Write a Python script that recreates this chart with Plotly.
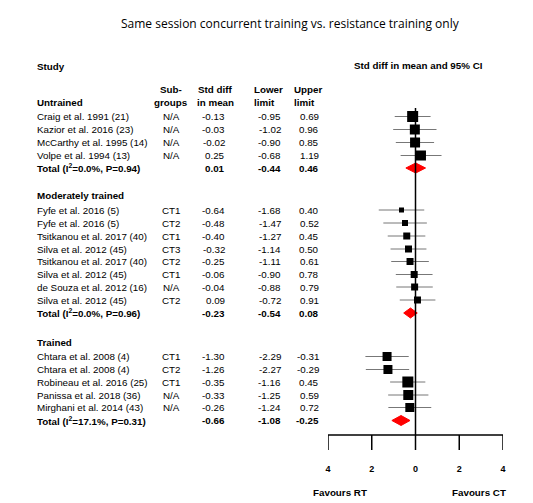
import plotly.graph_objects as go

# rows: (label, subgroup, est, lower, upper, marker size)
untrained = ["Craig et al. 1991 (21)", "Kazior et al. 2016 (23)", "McCarthy et al. 1995 (14)", "Volpe et al. 1994 (13)"]
untrained_sub = ["N/A", "N/A", "N/A", "N/A"]
untrained_est = [-0.13, -0.03, -0.02, 0.25]
untrained_lo = [-0.95, -1.02, -0.90, -0.68]
untrained_hi = [0.69, 0.96, 0.85, 1.19]
untrained_w = [11, 10, 10, 10]
untrained_total = [0.01, -0.44, 0.46]

moderate = ["Fyfe et al. 2016 (5)", "Fyfe et al. 2016 (5)", "Tsitkanou et al. 2017 (40)", "Silva et al. 2012 (45)",
            "Tsitkanou et al. 2017 (40)", "Silva et al. 2012 (45)", "de Souza et al. 2012 (16)", "Silva et al. 2012 (45)"]
moderate_sub = ["CT1", "CT2", "CT1", "CT3", "CT2", "CT1", "N/A", "CT2"]
moderate_est = [-0.64, -0.48, -0.40, -0.32, -0.25, -0.06, -0.04, 0.09]
moderate_lo = [-1.68, -1.47, -1.27, -1.14, -1.11, -0.90, -0.88, -0.72]
moderate_hi = [0.40, 0.52, 0.45, 0.50, 0.61, 0.78, 0.79, 0.91]
moderate_w = [5, 6, 7, 7, 7, 7, 7, 7]
moderate_total = [-0.23, -0.54, 0.08]

trained = ["Chtara et al. 2008 (4)", "Chtara et al. 2008 (4)", "Robineau et al. 2016 (25)", "Panissa et al. 2018 (36)",
           "Mirghani et al. 2014 (43)"]
trained_sub = ["CT1", "CT2", "CT1", "N/A", "N/A"]
trained_est = [-1.30, -1.26, -0.35, -0.33, -0.26]
trained_lo = [-2.29, -2.27, -1.16, -1.25, -1.24]
trained_hi = [-0.31, -0.29, 0.45, 0.59, 0.72]
trained_w = [9, 9, 11, 10, 9]
trained_total = [-0.66, -1.08, -0.25]

totals_label = ["Total (I<sup>2</sup>=0.0%, P=0.94)", "Total (I<sup>2</sup>=0.0%, P=0.96)", "Total (I<sup>2</sup>=17.1%, P=0.31)"]
group_names = ["Untrained", "Moderately trained", "Trained"]
axis_ticks = [-4, -2, 0, 2, 4]

W, H = 533, 503
FONT = "Liberation Sans"
FS = 9.8

groups = [
    (untrained, untrained_sub, untrained_est, untrained_lo, untrained_hi, untrained_w, untrained_total, 94, [108.5, 121.5, 134.5, 147.5], 160),
    (moderate, moderate_sub, moderate_est, moderate_lo, moderate_hi, moderate_w, moderate_total, 187, [202, 215, 228, 241, 253.5, 266.5, 279, 292], 305),
    (trained, trained_sub, trained_est, trained_lo, trained_hi, trained_w, trained_total, 334, [348.5, 361.5, 374, 387, 399.5], 412.5),
]

fig = go.Figure()
ann = []


def txt(x, y, s, anchor="left", bold=False, size=FS):
    ann.append(dict(x=x / W, y=y, xref="paper", yref="y", text=f"<b>{s}</b>" if bold else s,
                    showarrow=False, xanchor=anchor, yanchor="middle",
                    font=dict(family=FONT, size=size, color="black")))


def fmt(v):
    return f"{v:.2f}"


ann.append(dict(x=0.53, y=15, xref="paper", yref="y", text="Same session concurrent training vs. resistance training only",
                showarrow=False, xanchor="center", yanchor="middle", font=dict(family="Open Sans", size=12, color="black")))
txt(27, 58, "Study", bold=True)
txt(410, 57, "Std diff in mean and 95% CI", anchor="center", bold=True)
txt(163, 81, "Sub-", anchor="center", bold=True)
txt(163, 94, "groups", anchor="center", bold=True)
txt(207, 81, "Std diff", anchor="center", bold=True)
txt(207, 94, "in mean", anchor="center", bold=True)
txt(244, 81, "Lower", bold=True)
txt(244, 94, "limit", bold=True)
txt(284, 81, "Upper", bold=True)
txt(284, 94, "limit", bold=True)

for gi, (names, subs, est, lo, hi, w, tot, gy, ys, ty) in enumerate(groups):
    txt(27, gy, group_names[gi], bold=True)
    for n, s, e, l, h, y in zip(names, subs, est, lo, hi, ys):
        txt(27, y, n)
        txt(163, y, s, anchor="center")
        txt(219, y, fmt(e), anchor="right")
        txt(275, y, fmt(l), anchor="right")
        txt(313, y, fmt(h), anchor="right")
        fig.add_trace(go.Scatter(x=[l, h], y=[y, y], mode="lines", line=dict(color="#777777", width=1),
                                 showlegend=False, hoverinfo="skip"))
    fig.add_trace(go.Scatter(x=est, y=ys, mode="markers", opacity=1,
                             marker=dict(symbol="square", size=w, color="black", opacity=1, line=dict(width=0)),
                             showlegend=False))
    txt(27, ty, totals_label[gi], bold=True)
    txt(219, ty, fmt(tot[0]), anchor="right", bold=True)
    txt(275, ty, fmt(tot[1]), anchor="right", bold=True)
    txt(313, ty, fmt(tot[2]), anchor="right", bold=True)
    fig.add_trace(go.Scatter(x=[tot[1], tot[0], tot[2], tot[0], tot[1]], y=[ty, ty - 5, ty, ty + 5, ty],
                             mode="lines", fill="toself", fillcolor="red", line=dict(color="red", width=1),
                             showlegend=False))

# zero line and custom axis
fig.add_shape(type="line", x0=0, x1=0, y0=100, y1=427, xref="x", yref="y", line=dict(color="black", width=1.5))
fig.add_shape(type="line", x0=-4, x1=4, y0=427, y1=427, xref="x", yref="y", line=dict(color="black", width=1.5))
for t in axis_ticks:
    fig.add_shape(type="line", x0=t, x1=t, y0=427, y1=442, xref="x", yref="y", line=dict(color="black", width=1.5))
fig.add_trace(go.Scatter(x=axis_ticks, y=[462] * len(axis_ticks), mode="text", text=[f"<b>{abs(t)}</b>" for t in axis_ticks],
                         cliponaxis=False, textfont=dict(family=FONT, size=9, color="black"), showlegend=False))
ann.append(dict(x=-4 + 0.55, y=484, xref="x", yref="y", text="<b>Favours RT</b>", showarrow=False,
                xanchor="center", yanchor="middle", font=dict(family=FONT, size=FS, color="black")))
ann.append(dict(x=2.9, y=484, xref="x", yref="y", text="<b>Favours CT</b>", showarrow=False,
                xanchor="center", yanchor="middle", font=dict(family=FONT, size=FS, color="black")))

fig.update_layout(
    width=W, height=H, margin=dict(l=0, r=0, t=0, b=0),
    paper_bgcolor="white", plot_bgcolor="white",
    xaxis=dict(domain=[320 / W, 495 / W], range=[-4, 4], visible=False),
    yaxis=dict(range=[H, 0], visible=False),
    annotations=ann,
)

fig.write_html("out.html")
